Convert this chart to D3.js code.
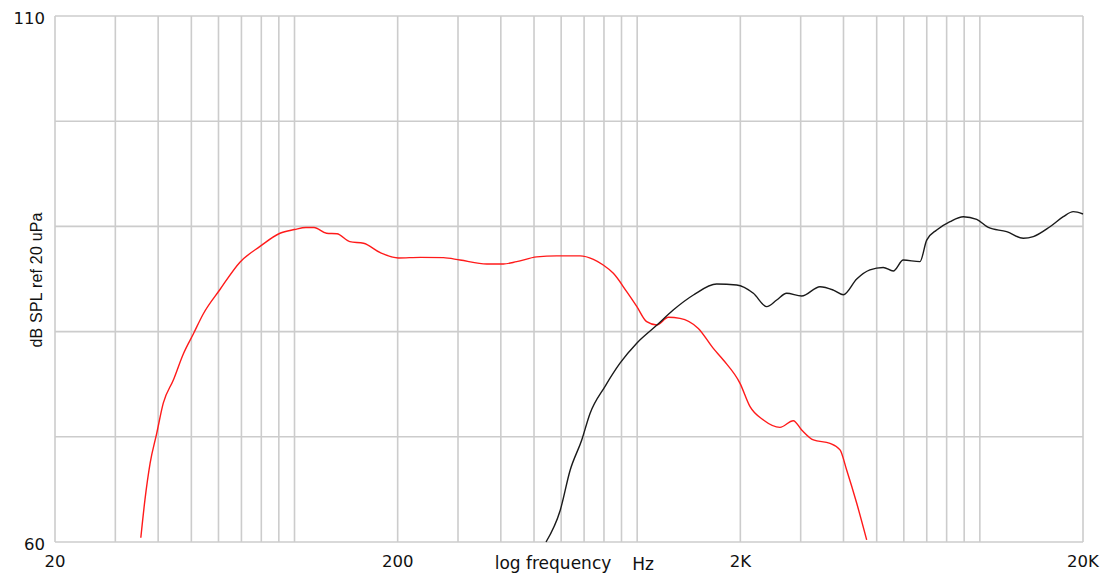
<!DOCTYPE html>
<html>
<head>
<meta charset="utf-8">
<script src="https://cdn.jsdelivr.net/npm/d3@7"></script>
<style>
  body { margin: 0; background: #fff; }
  text { fill: #111; }
</style>
</head>
<body>
<div id="chart"></div>
<script>
// frequency response, red = woofer, black = tweeter
const redFreq = [35.6, 36.6, 37.9, 39.6, 41.4, 44.3, 47.4, 50.7, 54.2, 60.6, 69.3, 79.3, 90.7, 100, 108, 114, 124, 133, 145, 159, 178, 201, 233, 272, 304, 364, 407, 445, 509, 582, 681, 745, 796, 852, 932, 997, 1066, 1140, 1233, 1333, 1508, 1668, 1784, 1996, 2135, 2335, 2610, 2855, 3020, 3268, 3653, 3908, 4086, 4372, 4675];
const redDb = [60.4, 64.0, 67.5, 70.3, 73.2, 75.4, 77.9, 79.8, 81.7, 84.0, 86.6, 88.1, 89.35, 89.7, 89.9, 89.9, 89.35, 89.3, 88.55, 88.4, 87.5, 87.0, 87.06, 87.03, 86.8, 86.43, 86.43, 86.65, 87.1, 87.2, 87.2, 86.87, 86.33, 85.54, 83.8, 82.4, 80.94, 80.63, 81.36, 81.26, 80.3, 78.4, 77.3, 75.08, 72.86, 71.6, 70.9, 71.53, 70.65, 69.7, 69.38, 68.75, 66.84, 63.68, 60.2];

const blackFreq = [542, 596, 637, 689, 728, 806, 891, 997, 1140, 1274, 1459, 1706, 1952, 2183, 2388, 2554, 2730, 3020, 3416, 3735, 3995, 4372, 4777, 5225, 5589, 5977, 6687, 6996, 7484, 8185, 8950, 9791, 10585, 11970, 13390, 14320, 16020, 17520, 18740, 20000];
const blackDb = [60.0, 63.0, 66.8, 69.7, 72.2, 74.8, 77.0, 78.9, 80.6, 82.05, 83.48, 84.52, 84.43, 83.64, 82.37, 83.0, 83.64, 83.38, 84.27, 83.95, 83.5, 85.0, 85.86, 86.1, 85.76, 86.8, 86.65, 88.7, 89.66, 90.45, 90.92, 90.67, 89.9, 89.5, 88.87, 89.03, 89.97, 90.92, 91.4, 91.18];

const xTickVals = [20, 200, 2000, 20000];
const xTickLabels = ["20", "200", "2K", "20K"];
const yTickVals = [60, 110];
const yGridVals = [60, 70, 80, 90, 100, 110];

const W = 1110, H = 580;
const mLeft = 55, mTop = 16, mRight = 1083, mBottom = 542;

let svg = d3.select("#chart").append("svg")
  .attr("width", W)
  .attr("height", H)
  .style("font-family", "'DejaVu Sans', sans-serif");

let x = d3.scaleLog().domain([20, 20000]).range([mLeft, mRight]);
let y = d3.scaleLinear().domain([60, 110]).range([mBottom, mTop]);

// vertical grid: every 1..9 step in each decade
let xGrid = [];
[10, 100, 1000, 10000].forEach(d => {
  for (let k = 1; k <= 9; k++) {
    let v = d * k;
    if (v >= 20 && v <= 20000) xGrid.push(v);
  }
});

let grid = svg.append("g").attr("stroke", "#cccccc").attr("stroke-width", 1.6);
grid.selectAll(".vx").data(xGrid).join("line")
  .attr("x1", d => x(d)).attr("x2", d => x(d))
  .attr("y1", mTop).attr("y2", mBottom);
grid.selectAll(".hy").data(yGridVals).join("line")
  .attr("x1", mLeft).attr("x2", mRight)
  .attr("y1", d => y(d)).attr("y2", d => y(d));

// tick labels
svg.append("g").selectAll("text").data(yTickVals).join("text")
  .attr("x", mLeft - 10)
  .attr("y", d => y(d) + 8)
  .attr("text-anchor", "end")
  .attr("font-size", "16.5px")
  .text(d => d);

svg.append("g").selectAll("text").data(xTickVals).join("text")
  .attr("x", d => x(d))
  .attr("y", 567)
  .attr("text-anchor", "middle")
  .attr("font-size", "16.5px")
  .text((d, i) => xTickLabels[i]);

svg.append("text")
  .attr("x", 553).attr("y", 569)
  .attr("text-anchor", "middle")
  .attr("font-size", "17px")
  .text("log frequency");
svg.append("text")
  .attr("x", 643).attr("y", 570)
  .attr("text-anchor", "middle")
  .attr("font-size", "17px")
  .text("Hz");

svg.append("text")
  .attr("transform", "translate(42,280) rotate(-90)")
  .attr("text-anchor", "middle")
  .attr("font-family", "'Liberation Sans', Arial, sans-serif")
  .attr("font-size", "16px")
  .attr("textLength", 135)
  .text("dB SPL ref 20 uPa");

// curves
let line = d3.line()
  .x(d => x(d[0]))
  .y(d => y(d[1]))
  .curve(d3.curveMonotoneX);

svg.append("path")
  .datum(redFreq.map((f, i) => [f, redDb[i]]))
  .attr("fill", "none")
  .attr("stroke", "#ff1a1a")
  .attr("stroke-width", 1.4)
  .attr("d", line);

svg.append("path")
  .datum(blackFreq.map((f, i) => [f, blackDb[i]]))
  .attr("fill", "none")
  .attr("stroke", "#1a1a1a")
  .attr("stroke-width", 1.4)
  .attr("d", line);
</script>
</body>
</html>
